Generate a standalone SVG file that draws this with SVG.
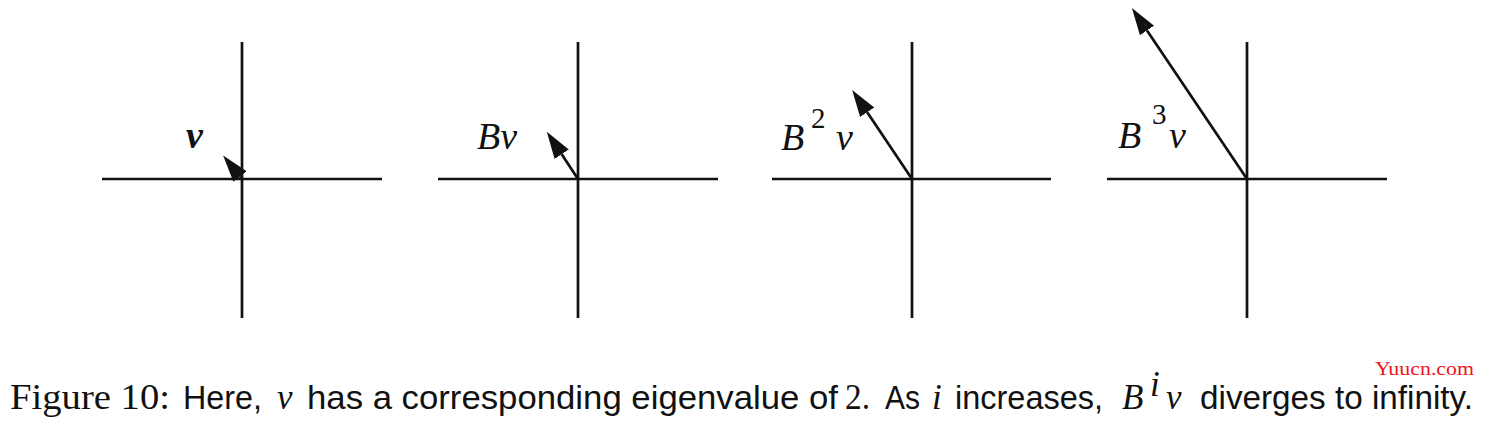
<svg xmlns="http://www.w3.org/2000/svg" width="1486" height="424" viewBox="0 0 1486 424">
<style>
.ax{stroke:#111;stroke-width:2.7;fill:none}
.vec{stroke:#111;stroke-width:2.7;fill:none;marker-end:url(#ah)}
.lab{font-family:"Liberation Serif",serif;font-style:italic;font-size:38px;fill:#111}
.sup{font-family:"Liberation Serif",serif;font-size:29px;fill:#111}
.cs{font-family:"Liberation Sans",sans-serif;font-size:33px;fill:#111}
.cr{font-family:"Liberation Serif",serif;font-size:35px;fill:#111}
.ci{font-family:"Liberation Serif",serif;font-style:italic;font-size:35px;fill:#111}
</style>
<defs>
<marker id="ah" markerUnits="userSpaceOnUse" markerWidth="30" markerHeight="20" viewBox="0 -10 30 20" refX="0" refY="0" orient="auto">
<path d="M0,-8.5 L27,0 L0,8.5 z" fill="#111"/>
</marker>
</defs>
<g id="panel1">
<line class="ax" x1="242" y1="42" x2="242" y2="318"/>
<line class="ax" x1="102" y1="179" x2="382" y2="179"/>
<text class="lab" x="186" y="148" font-weight="bold">v</text>
</g>
<g id="panel2">
<line class="ax" x1="578" y1="42" x2="578" y2="318"/>
<line class="ax" x1="438" y1="179" x2="718" y2="179"/>
<text class="lab" x="477" y="149">Bv</text>
</g>
<g id="panel3">
<line class="ax" x1="912" y1="42" x2="912" y2="318"/>
<line class="ax" x1="772" y1="179" x2="1051" y2="179"/>
<text class="lab" x="781" y="150">B</text>
<text class="sup" x="811" y="128">2</text>
<text class="lab" x="836" y="150">v</text>
</g>
<g id="panel4">
<line class="ax" x1="1247" y1="42" x2="1247" y2="318"/>
<line class="ax" x1="1107" y1="179" x2="1387" y2="179"/>
<text class="lab" x="1118" y="148">B</text>
<text class="sup" x="1152" y="124">3</text>
<text class="lab" x="1169" y="148">v</text>
</g>
<g id="connectors">
<line class="vec" x1="242" y1="179" x2="240" y2="176.5"/>
<line class="vec" x1="578" y1="179" x2="561.7" y2="154.3"/>
<line class="vec" x1="912" y1="179" x2="867.2" y2="112.3"/>
<line class="vec" x1="1247" y1="179" x2="1147" y2="30.5"/>
</g>
<g id="caption">
<text class="cr" x="10" y="409" textLength="160" lengthAdjust="spacingAndGlyphs">Figure 10:</text>
<text class="cs" x="183" y="409" textLength="79" lengthAdjust="spacingAndGlyphs">Here,</text>
<text class="ci" x="277" y="409">v</text>
<text class="cs" x="307" y="409" textLength="531" lengthAdjust="spacingAndGlyphs">has a corresponding eigenvalue of</text>
<text class="cr" x="845" y="409" textLength="25" lengthAdjust="spacingAndGlyphs">2.</text>
<text class="cs" x="885" y="409" textLength="35" lengthAdjust="spacingAndGlyphs">As</text>
<text class="ci" x="932" y="409">i</text>
<text class="cs" x="955" y="409" textLength="148" lengthAdjust="spacingAndGlyphs">increases,</text>
<text class="ci" x="1122" y="409">B</text>
<text class="ci" x="1150" y="396" font-size="23">i</text>
<text class="ci" x="1166" y="409">v</text>
<text class="cs" x="1200" y="409" textLength="273" lengthAdjust="spacingAndGlyphs">diverges to infinity.</text>
</g>
<text id="watermark" x="1375" y="375" font-family="Liberation Serif,serif" font-size="18" fill="#ee1520" textLength="99" lengthAdjust="spacingAndGlyphs">Yuucn.com</text>
</svg>
